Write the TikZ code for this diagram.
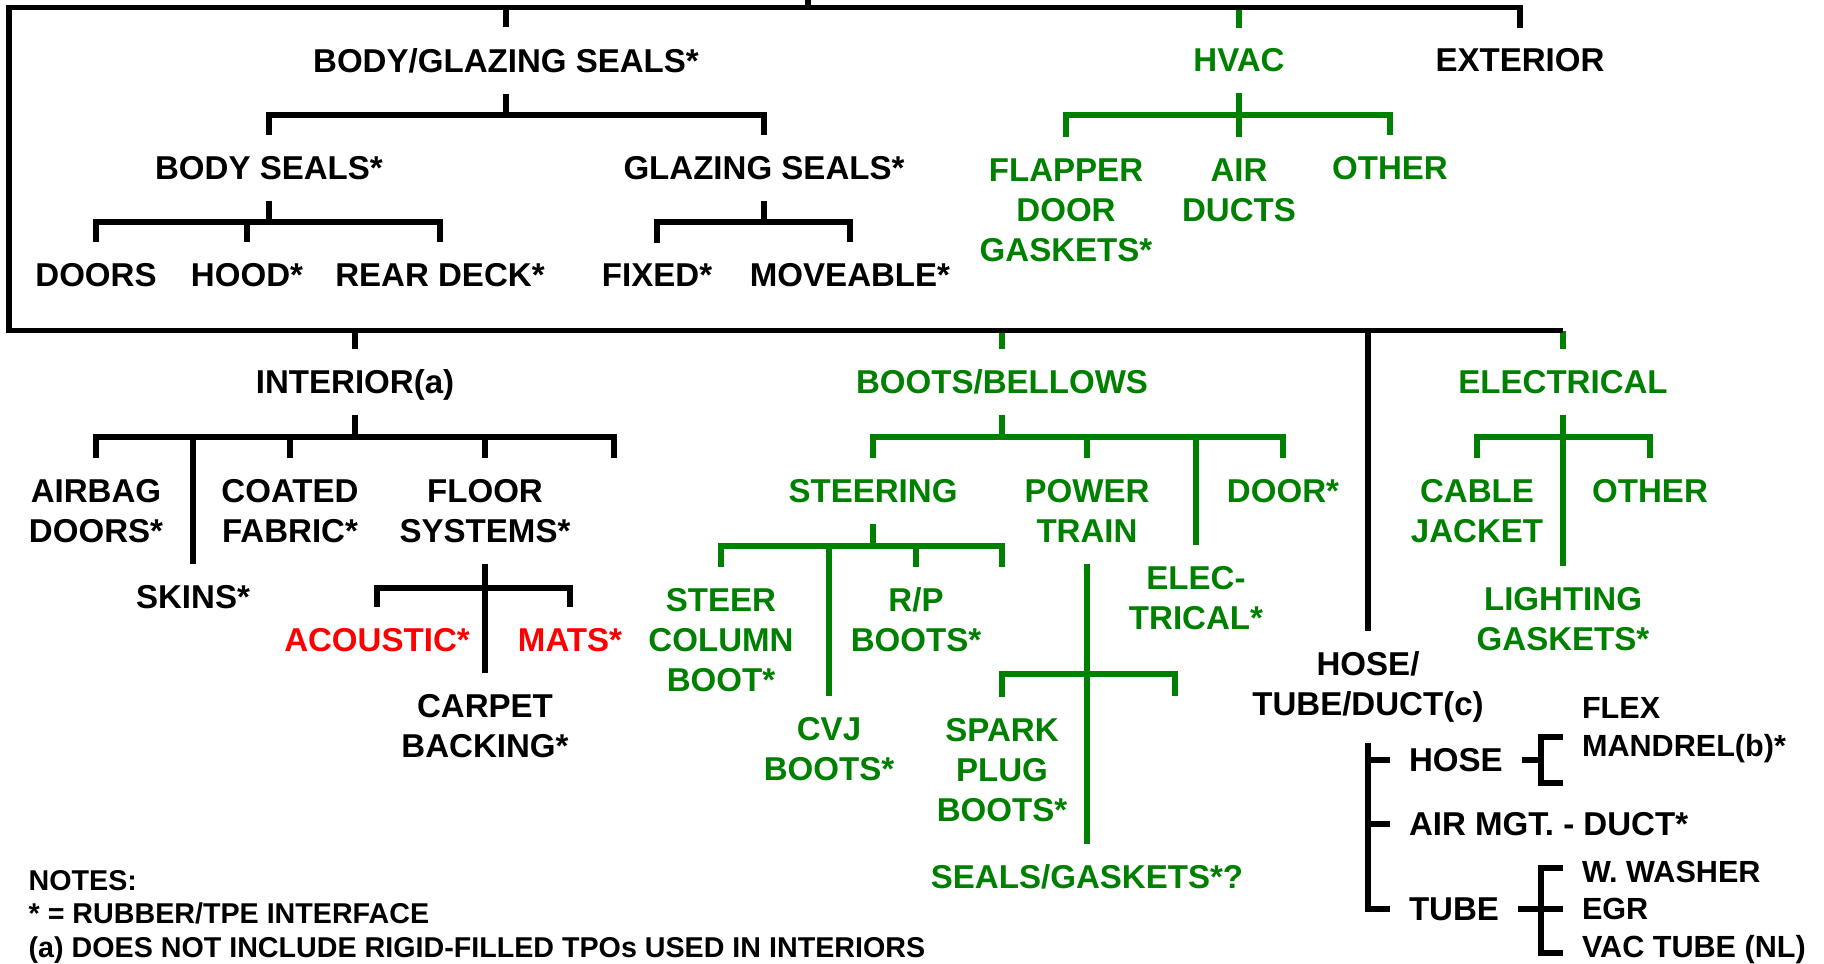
\documentclass[tikz,border=0pt]{standalone}
\usepackage{fontspec}
\setmainfont{Liberation Sans}
\usepackage{xcolor}
\usetikzlibrary{calc}
\definecolor{leafgreen}{RGB}{0,128,0}
\definecolor{hotred}{RGB}{255,0,0}
\tikzset{
  treeitem/.style={font=\bfseries\fontsize{9.4}{11.38}\selectfont, align=center,
    inner xsep=0.19cm, inner ysep=0.21cm, outer sep=0pt},
  blackitem/.style={treeitem, text=black},
  greenitem/.style={treeitem, text=leafgreen},
  reditem/.style={treeitem, text=hotred},
  sideitem/.style={treeitem, anchor=west, align=left},
  smallitem/.style={sideitem, font=\bfseries\fontsize{8.7}{10.67}\selectfont},
  noteitem/.style={anchor=west, align=left, inner sep=0pt,
    font=\bfseries\fontsize{8.15}{9.53}\selectfont},
  blackline/.style={draw=black, line width=1.6pt},
  greenline/.style={draw=leafgreen, line width=1.6pt}
}

\begin{document}
\begin{tikzpicture}[x=0.01cm, y=-0.01cm]
\useasboundingbox (0,0) rectangle (1824,963);

\node[blackitem] (bgs) at (506,60.5) {BODY/GLAZING SEALS*};
\node[greenitem] (hvac) at (1239,60.5) {HVAC};
\node[blackitem] (ext) at (1520,60.5) {EXTERIOR};
\node[blackitem] (bods) at (269,168) {BODY SEALS*};
\node[blackitem] (glzs) at (764,168) {GLAZING SEALS*};
\node[blackitem] (doors) at (96,275) {DOORS};
\node[blackitem] (hood) at (247,275) {HOOD*};
\node[blackitem] (rear) at (440,275) {REAR DECK*};
\node[blackitem] (fixed) at (657,275) {FIXED*};
\node[blackitem] (moveable) at (850,275) {MOVEABLE*};
\node[greenitem] (flapper) at (1066,210) {FLAPPER\\DOOR\\GASKETS*};
\node[greenitem] (airducts) at (1239,190) {AIR\\DUCTS};
\node[greenitem] (hvacother) at (1390,168) {OTHER};

\node[blackitem, text depth=0pt] (interior) at (355,382) {INTERIOR(a)};
\node[greenitem] (boots) at (1002,382) {BOOTS/BELLOWS};
\node[greenitem] (electrical) at (1563,382) {ELECTRICAL};
\node[blackitem] (airbag) at (96,511) {AIRBAG\\DOORS*};
\node[blackitem] (skins) at (193,597) {SKINS*};
\node[blackitem] (coated) at (290,511) {COATED\\FABRIC*};
\node[blackitem] (floor) at (485,511) {FLOOR\\SYSTEMS*};
\node[reditem] (acoustic) at (377,640) {ACOUSTIC*};
\node[reditem] (mats) at (570,640) {MATS*};
\node[blackitem] (carpet) at (485,726) {CARPET\\BACKING*};
\node[greenitem] (steering) at (873,491) {STEERING};
\node[greenitem] (powertrain) at (1087,511) {POWER\\TRAIN};
\node[greenitem] (elecboot) at (1196,598) {ELEC-\\TRICAL*};
\node[greenitem] (doorboot) at (1283,491) {DOOR*};
\node[greenitem] (column) at (721,640) {STEER\\COLUMN\\BOOT*};
\node[greenitem] (cvj) at (829,749) {CVJ\\BOOTS*};
\node[greenitem] (rp) at (916,620) {R/P\\BOOTS*};
\node[greenitem] (spark) at (1002,770) {SPARK\\PLUG\\BOOTS*};
\node[greenitem] (sealgask) at (1087,877) {SEALS/GASKETS*?};
\node[greenitem] (cable) at (1477,511) {CABLE\\JACKET};
\node[greenitem] (light) at (1563,619) {LIGHTING\\GASKETS*};
\node[greenitem] (elecother) at (1650,491) {OTHER};

\node[blackitem] (hosetube) at (1368,687) {HOSE/\\TUBE/DUCT(c)};
\node[sideitem] (hose) at (1390,760) {HOSE};
\node[sideitem] (airmgt) at (1390,824) {AIR MGT. - DUCT*};
\node[sideitem] (tube) at (1390,909) {TUBE};
\node[smallitem] (flex) at (1563,730) {FLEX\\MANDREL(b)*};
\node[smallitem] (tubekinds) at (1563,912) {W. WASHER\\EGR\\VAC TUBE (NL)};
\node[noteitem] (notes) at (28,916.5) {NOTES:\\* = RUBBER/TPE INTERFACE\\(a) DOES NOT INCLUDE RIGID-FILLED TPOs USED IN INTERIORS};

\coordinate (trunk) at (808,0);
\coordinate (upbar) at (808,7.5);
\coordinate (lowbar) at (9,330.5);
\coordinate (lowend) at (1563,330.5);
\coordinate (bgsj) at (506,115);
\coordinate (bodsj) at (269,222);
\coordinate (glzsj) at (764,222);
\coordinate (hvacj) at (1239,115);
\coordinate (interiorj) at (355,437);
\coordinate (interiorend) at (614,458);
\coordinate (floorj) at (485,588);
\coordinate (bootsj) at (1002,437);
\coordinate (steeringj) at (873,546);
\coordinate (steeringend) at (1002,567);
\coordinate (powerj) at (1087,674);
\coordinate (powerend) at (1175,696);
\coordinate (electricalj) at (1563,437);
\coordinate (hosebr) at (1541,760);
\coordinate (tubebr) at (1541,909);

\draw[greenline] (hvac |- upbar) -- (hvac);
\draw[greenline] (boots |- lowbar) -- (boots);
\draw[greenline] (electrical |- lowbar) -- (electrical);

\draw[blackline] (trunk) -- (upbar) -| (ext);
\draw[blackline] (upbar) -| (bgs);
\draw[blackline] (upbar) -| (lowbar) -- (lowend);
\draw[blackline] (interior |- lowbar) -- (interior);
\draw[blackline] (hosetube |- lowbar) -- (hosetube);

\draw[blackline] (bgs) -- (bgsj);
\draw[blackline] (bgsj) -| (bods);
\draw[blackline] (bgsj) -| (glzs);
\draw[blackline] (bods) -- (bodsj);
\draw[blackline] (bodsj) -| (doors);
\draw[blackline] (bodsj) -| (hood);
\draw[blackline] (bodsj) -| (rear);
\draw[blackline] (glzs) -- (glzsj);
\draw[blackline] (glzsj) -| (fixed);
\draw[blackline] (glzsj) -| (moveable);
\draw[greenline] (hvac) -- (hvacj);
\draw[greenline] (hvacj) -| (flapper);
\draw[greenline] (hvacj) -- (airducts);
\draw[greenline] (hvacj) -| (hvacother);

\draw[blackline] (interior) -- (interiorj);
\draw[blackline] (interiorj) -| (airbag);
\draw[blackline] (interiorj) -| (skins);
\draw[blackline] (interiorj) -| (coated);
\draw[blackline] (interiorj) -| (floor);
\draw[blackline] (interiorj) -| (interiorend);
\draw[blackline] (floor) -- (floorj);
\draw[blackline] (floorj) -| (acoustic);
\draw[blackline] (floorj) -| (mats);
\draw[blackline] (floorj) -- (carpet);

\draw[greenline] (boots) -- (bootsj);
\draw[greenline] (bootsj) -| (steering);
\draw[greenline] (bootsj) -| (powertrain);
\draw[greenline] (bootsj) -| (elecboot);
\draw[greenline] (bootsj) -| (doorboot);
\draw[greenline] (steering) -- (steeringj);
\draw[greenline] (steeringj) -| (column);
\draw[greenline] (steeringj) -| (cvj);
\draw[greenline] (steeringj) -| (rp);
\draw[greenline] (steeringj) -| (steeringend);
\draw[greenline] (powertrain) -- (powerj);
\draw[greenline] (powerj) -| (spark);
\draw[greenline] (powerj) -- (sealgask);
\draw[greenline] (powerj) -| (powerend);

\draw[greenline] (electrical) -- (electricalj);
\draw[greenline] (electricalj) -| (cable);
\draw[greenline] (electricalj) -- (light);
\draw[greenline] (electricalj) -| (elecother);

\draw[blackline] (hosetube) |- (hose);
\draw[blackline] (hosetube) |- (airmgt);
\draw[blackline] (hosetube) |- (tube);
\draw[blackline] (hose) -- (hosebr);
\draw[blackline] ($(hosebr)+(22,-23)$) -| ($(hosebr)+(0,23)$) -- ++(22,0);
\draw[blackline] (tube) -- (tubebr);
\draw[blackline] ($(tubebr)+(22,-41)$) -| ($(tubebr)+(0,44)$) -- ++(22,0);
\draw[blackline] (tubebr) -- ++(22,0);
\end{tikzpicture}
\end{document}
